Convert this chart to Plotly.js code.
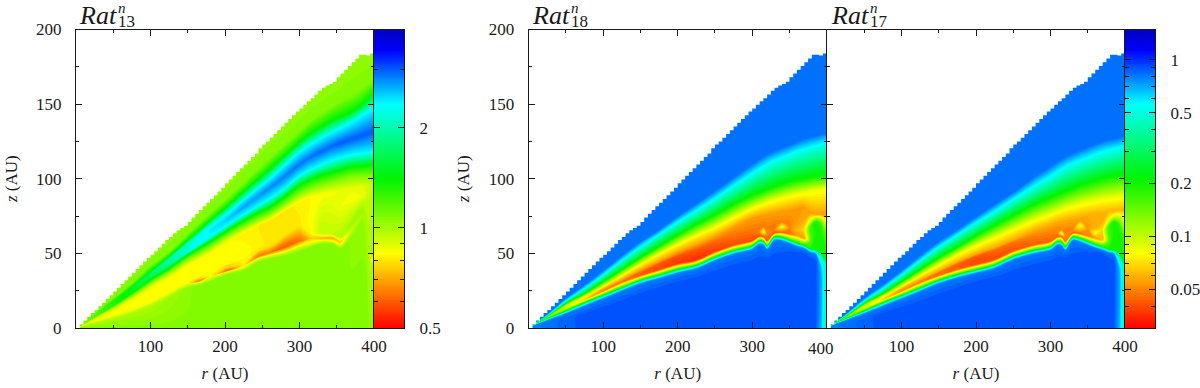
<!DOCTYPE html>
<html><head><meta charset="utf-8">
<script src="https://cdn.plot.ly/plotly-3.0.1.min.js"></script>
<style>html,body{margin:0;padding:0;background:#fff}#p{width:1200px;height:388px}</style>
</head><body><div id="p"></div>
<script>
// ---------- panel 1 : Rat13 ----------
const r1=[3,10,25,50,75,100,125,150,165,180,205,225,245,260,280,300,315,330,345,355,370,385,395,400];
const h1Base=[.2,1,3,6,9.5,14,20.5,27,28.5,31,36,38.5,44,46,48,51,54,56,56,53,60,70,44,40];
const h1Edge=[.3,1.3,3.6,7.2,11,16,22.5,29,30,33,37.5,40,46,48,50.5,54,56,58,57.5,55,63,73,45.5,42];
const h1Streak=[.35,1.5,4,7.8,12,16.8,23,30,31.5,34.5,38.7,41.5,48,50.5,54,58.5,60,60,60,57.5,66,76,47,45];
const h1Above=[.4,1.7,4.5,8.4,13,18,24,31,33,36,40.5,44,52,54,58,63,63,63.5,63,61,70,80,50,50];
const h1BandLow=[.45,1.9,4.8,9,14,19,25,33,35,39,44,50,55,57,62,68,70,75,79,82,86,89,88,90];
const h1BandTop=[.5,2.4,6,12.5,19.5,27,34,42,46,50,58,63.5,68.5,72,78,84,87.5,89.5,91,92,93.5,95,97,98];
const h1LimeL=[.55,2.7,7,14,21.5,30,37.5,46,50,54.5,62.5,68,73,76.5,83,90,93.5,96,98,99.5,101.5,102,102,102];
const h1GreenL=[.6,3,7.5,15,23.5,32.5,40,49,53.5,58,66,72,77.5,81,88,95.5,99.5,102.5,104.5,106,108,108.5,109.5,110];
const h1CyanL=[.65,3.1,8,15.8,24.5,34.5,43,51,56,61,69.5,76,82,86.5,93.5,102,106,109.5,112.5,114,116,117,117.5,118];
const h1Core=[.7,3.2,8.3,16.5,25.5,35.5,44.5,53.5,59,64.5,73.5,81,88.5,94,101.5,109.5,114.5,118.5,122,124,126.5,129,131,132];
const h1CyanU=[.75,3.3,8.6,17.2,26.5,36.5,46,56,62,68,77.5,86,94,100,109,118,123,127.5,131.5,134,138,143,146,148];
const h1GreenU=[.8,3.4,9,18,27.5,38,48,59,65.5,72,82.5,91.5,100,106.5,115.5,124.5,130.5,135,139.5,141.5,145,150,155,157];
const h1LimeU=[.9,3.7,10,20,30,42,51,63,70,77,88,97.5,107,114,123,132,139,144,149,152,156,161,165,166];
const h1Top=[1.3,4.6,11.7,24.5,37,49,61,72,79,87,100,111,122,129,137,147,154,160,165,169,178,183,184,186];
const v1Floor=[1.08,1.08,1.08,1.08,1.08,1.08,1.08,1.08,1.08,1.08,1.08,1.08,1.08,1.08,1.08,1.08,1.08,1.08,1.08,1.08,1.08,1.08,1.06,1.05];
const v1Base=[1.05,1.02,1,1,1,1,1.02,1.05,1.08,1.08,1.08,1.08,1.08,1.08,1.08,1.08,1.08,1.08,1.08,1.08,1.06,1.06,.98,1.02];
const v1Edge=[.95,.95,.93,.93,.93,.93,.93,.92,.92,.92,.92,.92,.92,.92,.92,.92,.92,.92,.92,.92,1,1.02,.9,.95];
const v1Streak=[.9,.9,.88,.88,.87,.85,.85,.84,.62,.84,.6,.82,.62,.63,.6,.62,.75,.72,.7,.75,.95,1,.72,.9];
const v1Above=[.88,.88,.86,.86,.85,.85,.85,.85,.78,.84,.75,.82,.8,.78,.68,.7,.82,.95,.95,.98,1.02,1.02,1,1.02];
const v1BandLow=[.88,.86,.85,.84,.84,.84,.84,.84,.84,.84,.84,.84,.82,.8,.8,.8,.84,.92,.9,.87,.85,.87,.95,1];
const v1BandTop=[.95,.92,.9,.88,.86,.85,.85,.84,.84,.84,.83,.82,.81,.8,.8,.82,.83,.85,.86,.87,.88,.9,.95,1];
const v1Core=[1.1,1.12,1.2,1.32,1.5,1.7,1.95,2.15,2.3,2.4,2.55,2.7,2.75,2.8,2.85,2.9,2.9,2.95,2.95,3,3,3,3,3];
// ---------- panel 2 : Rat18 ----------
const r2=[3,10,25,50,75,100,125,150,175,200,225,250,275,300,310,315,320,330,340,350,360,370,378,385,392,396,400];
const h2Blue=[.3,1.5,3,5.5,9,13,17.5,22,26,30,33,37,41,44,46,46,46,48,49,50,50,49,46,44,40,38,36];
const h2Light=[.5,2.2,5,9.5,14.5,19.6,24.6,29.6,33,36.7,39.6,45,49.4,52.5,56,55.5,52.5,58.5,58.2,56.5,54.5,53,50.5,49.5,44,41,39];
const h2Cyan=[.6,2.5,5.6,10.5,15.8,20.8,25.8,30.8,34.3,38,40.8,46.2,50.6,53.8,57.3,56.8,53.8,59.8,59.5,57.8,55.8,54.2,51.8,51,47,44,42];
const h2Green=[.7,2.8,6.3,11.4,17,22,27,32,35.5,39.3,42,47.5,51.8,55,58.5,58,55,61,60.7,59,57,55.4,53,53,52,48,47];
const h2Peak=[.75,3,6.8,12.8,18.5,24.5,30.5,35,39,43,45.5,51,55.5,58.5,61.5,61,58.5,63.5,64,63,62,60,58,62,60,57,54];
const h2Spot=[.8,3.1,6.9,13.3,19,25,31,36.5,41,45.5,48.5,54,58,61.5,64,65,62.5,65.5,68,67,66,66,67,71,69,64,60];
const h2Above=[.82,3.15,6.95,13.6,19.3,25.5,31.5,37.7,43.2,48,52.5,58,62.5,66,67,68,67,69,71,71,71,72,72.5,73,72.5,70,68];
const h2Orange=[.85,3.2,7,14,19.7,26,32,38.5,44.5,50.5,55.5,61,67.5,73.5,75,75.5,76,77,78,79,80,81,77,76,76,76,76];
const h2Yellow=[.9,3.4,7.3,15,21.5,28,35.5,43,50,56.5,62.5,68,74.5,80.5,82.5,83.5,84.5,86,87.5,89,90,91,92,92.5,93,93.5,94];
const h2GreenU=[1,3.6,7.8,16.5,23,31,39,47,54.5,62,69,75.5,82.5,88.5,90.5,91.5,92.5,94.3,96,97.5,98.8,99.8,100.5,101,101.5,101.8,102];
const h2CyanU=[1.1,3.9,8.5,18,26,35,44.5,53.5,62,70,77.5,85.5,94,102,105,106.5,108,110.5,112.5,114.5,116.5,118,119.3,120.3,121.2,122,122.5];
const h2BlueU=[1.2,4.1,9.3,20,29,38.5,48.5,58,66,75,83.5,92,101,110,113.5,115,116.5,119,121,123,125,127,128.2,129,130,130.5,131];
const h2Top=[1.4,4.8,11.5,24.5,37,49,61,73,86,99,111,124,136,147,152,154,156,160,163,167,172,178,182,183,183,185,186];
const v2Bottom=[.8,.8,.82,.86,.9,.9,.9,.9,.9,.9,.9,.9,.9,.9,.9,.9,.9,.9,.9,.9,.9,.9,.9,.9,.7,.5,.45];
const v2Light=[.8,.8,.8,.8,.8,.8,.8,.8,.8,.8,.8,.8,.8,.8,.8,.8,.8,.8,.8,.8,.8,.8,.8,.8,.55,.5,.45];
const v2Peak=[.2,.18,.15,.11,.07,.052,.047,.043,.04,.037,.036,.038,.04,.04,.04,.042,.042,.042,.043,.045,.055,.055,.15,.2,.2,.2,.18];
const v2Spot=[.19,.17,.14,.1,.065,.05,.047,.043,.04,.038,.038,.04,.042,.043,.05,.09,.05,.048,.085,.05,.06,.07,.17,.2,.18,.17,.16];
const v2Above=[.18,.165,.135,.1,.068,.052,.05,.046,.043,.041,.042,.045,.047,.048,.048,.047,.048,.048,.05,.05,.055,.058,.08,.12,.12,.12,.11];
const v2Orange=[.18,.16,.13,.1,.07,.055,.055,.055,.055,.055,.055,.055,.055,.055,.055,.055,.055,.055,.055,.055,.055,.055,.055,.055,.055,.055,.055];
// ---------- panel 3 : Rat17 ----------
const r3=[3,10,25,50,75,100,125,150,175,200,225,250,275,300,310,315,320,330,340,350,360,370,378,385,392,396,400];
const h3Blue=[.3,1.5,3,5.5,9,13,17,21.5,26,30,33,37,41,44,46,46,46,48,49,50,50,49,46,44,40,38,36];
const h3Light=[.5,2.2,5,9.5,14.5,19.4,24.4,29.6,33.4,36.6,39.9,45.6,49.4,52,55.5,55,52,58.5,57.5,55.5,53.5,52,50.3,49.5,44,41,38];
const h3Cyan=[.6,2.5,5.6,10.5,15.8,20.6,25.6,30.8,34.6,37.8,41.1,46.8,50.6,53.3,56.8,56.3,53.3,59.8,58.8,56.8,54.8,53.3,51.6,51,47,43.5,41];
const h3Green=[.7,2.8,6.3,11.4,17,21.8,26.8,32,35.8,39,42.3,48,51.8,54.5,58,57.5,54.5,61,60,58,56,54.5,52.8,52.5,51,47,46];
const h3Peak=[.75,3,6.8,12.8,18.5,24.3,30.3,35,39.3,42.5,45.8,51.5,55.3,58,61,61,58,63.5,63,61.5,60,59,58,62,60,57,54];
const h3Spot=[.8,3.1,6.9,13.3,19,25,31,36.5,41,45,48.5,54,58,61,63.5,63.5,61,65,69,66,63.5,66,67,71,69,64,60];
const h3Above=[.82,3.15,6.95,13.6,19.3,25.5,31.5,37.5,43,48,52,57.5,61.5,64.5,66,66,66,67,72,69,67,71,72.5,73,72.5,70,68];
const h3Orange=[.85,3.2,7,14,19.7,26,32,38,44,49.5,54,59,64.5,69,71,71.5,72,73,74,75,76,77,78,78,79,79,80];
const h3Yellow=[.9,3.4,7.3,15,21.5,28,35.5,42.5,49.5,55.5,61,66.5,72,76.5,78.5,79.5,80.5,82,83.5,84.5,85.5,86.5,87,87.5,88,88.5,89];
const h3GreenU=[1,3.6,7.8,16.5,23,31,39,47,54,61.5,68.5,75,81.5,87,89,90,91,93,95,96.5,98,99.5,100.3,101,101.6,102,102.5];
const h3CyanU=[1.1,3.9,8.5,18,26,35,44.5,53.5,61.5,69.5,77,85,92.5,100,103,104.5,106,108.5,110.5,112.5,114.5,116,117.2,118.2,119,119.5,120];
const h3BlueU=[1.2,4.1,9.3,20,29,38.5,48.5,58,66,74.5,83,91,100.5,108.5,112,113.5,115,117.5,119.5,121.5,123.5,125.5,126.5,127,128,128.5,129];
const h3Top=[1.4,4.8,11.5,24.5,37,49,61,73,86,99,111,124,136,147,151,153,155,160,164,167,172,178,181,183,183,184,186];
const v3Bottom=[.8,.8,.82,.86,.9,.9,.9,.9,.9,.9,.9,.9,.9,.9,.9,.9,.9,.9,.9,.9,.9,.9,.9,.9,.7,.5,.45];
const v3Light=[.8,.8,.8,.8,.8,.8,.8,.8,.8,.8,.8,.8,.8,.8,.8,.8,.8,.8,.8,.8,.8,.8,.8,.8,.55,.5,.45];
const v3Peak=[.2,.18,.15,.11,.072,.055,.05,.046,.043,.04,.04,.041,.043,.043,.045,.045,.047,.043,.045,.05,.055,.06,.15,.2,.2,.2,.18];
const v3Spot=[.19,.17,.14,.1,.068,.052,.05,.046,.043,.04,.041,.043,.045,.047,.05,.09,.05,.05,.085,.052,.08,.07,.17,.2,.18,.17,.16];
const v3Above=[.18,.165,.135,.1,.07,.054,.052,.048,.045,.043,.045,.047,.05,.05,.05,.05,.05,.05,.055,.055,.06,.06,.08,.12,.12,.12,.11];
const v3Orange=[.18,.16,.13,.1,.072,.056,.057,.058,.058,.058,.058,.058,.058,.058,.058,.058,.058,.058,.058,.058,.058,.06,.06,.06,.06,.06,.06];
// ---------- stepped upper edge of the computed domain ----------
const edgeR=[0,5,10,15,20,25,30,35,40,45,50,55,60,65,70,75,80,85,90,95,100,105,110,115,120,125,130,135,140,145,150,155,160,165,170,175,180,185,190,195,200,205,210,215,220,225,230,235,240,245,250,255,260,265,270,275,280,285,290,295,300,305,310,315,320,325,330,335,340,345,350,355,360,365,370,375,380,385,390,395,400];
const edgeZ=[0,2.5,5,7.5,10,12,14.5,17,19.5,22,24.5,27,29.5,32,34.5,37,39.5,42,44.5,47,49,51.5,54,56.5,59,61,63.5,65.5,67,68.5,71,74,76.5,79,81.5,84,86.5,89,91.5,94,97,99.5,102,104.5,107,109.5,112,114.5,117,120.5,123,125,127.5,130,132.5,135,137.5,140,142.5,145,147,149.5,152,154,156.5,159,161,162.5,163.5,165,168,170.5,173,175.5,178,180.5,183,183,182.5,184,186];
// ---------- scales and ticks ----------
const range1=[0.5,3.95], range3=[0.0302,1.48];
const cbTicks1=[0.5,1,2], cbMinor1=[0.6,0.7,0.8,0.9,3];
const cbTicks3=[0.05,0.1,0.2,0.5,1], cbMinor3=[0.04,0.06,0.07,0.08,0.09,0.3,0.4,0.6,0.7,0.8,0.9];
const rTicks=[100,200,300,400], rMinor=[50,150,250,350];
const zTicks=[0,50,100,150,200], zMinor=[25,75,125,175];
const scale=[[0,'#ff0000'],[0.25,'#ffff00'],[0.5,'#00f500'],[0.75,'#00ffff'],[0.93,'#0000ff'],[1,'#0000c0']];
const FONT='Liberation Serif', INK='#1a1a1a';

const lg=v=>Math.log10(v);
function wedge(id,xa,ya,R,heights,values,range){
  const x=heights.map(()=>R.slice());
  const b=heights.map((_,i)=>i);
  const zlo=lg(range[0]), zhi=lg(range[1]);
  const off={smoothing:0,showgrid:false,showline:false,startline:false,endline:false,showticklabels:'none',minorgridcount:0,tickmode:'array',tickvals:[]};
  return [
   {type:'carpet',carpet:id,a:R,b:b,x:x,y:heights,xaxis:xa,yaxis:ya,aaxis:off,baxis:off,hoverinfo:'skip'},
   {type:'contourcarpet',carpet:id,a:R,b:b,z:values.map(v=>v.map(lg)),xaxis:xa,yaxis:ya,autocontour:false,
    contours:{start:zlo,end:zhi,size:(zhi-zlo)/90,coloring:'fill',showlines:false},line:{width:0},
    colorscale:scale,zmin:zlo,zmax:zhi,showscale:false,hoverinfo:'skip'},
   {type:'scatter',mode:'lines',x:[...edgeR,400,0],y:[...edgeZ,201,201],xaxis:xa,yaxis:ya,line:{shape:'hv',width:0,color:'#fff'},fill:'toself',fillcolor:'#fff',hoverinfo:'skip'}
  ];
}
const fill=(R,v)=>R.map(()=>v);
const zeros=R=>R.map(()=>0);
const above=a=>a.map(v=>v+3);
const minWith=(a,c)=>a.map(v=>Math.min(v,c));
function ramp(range){const y=[];for(let i=0;i<=320;i++)y.push(range[0]*Math.pow(range[1]/range[0],i/320));return y;}
function cbar(xa,ya,range){const y=ramp(range),zlo=lg(range[0]),zhi=lg(range[1]);
  return {type:'heatmap',x:[0,1],y:y,z:y.map(v=>[lg(v),lg(v)]),xaxis:xa,yaxis:ya,colorscale:scale,zmin:zlo,zmax:zhi,showscale:false,hoverinfo:'skip'};}

const t1=wedge('c1','x','y',r1,
 [zeros(r1),h1Base,h1Edge,h1Streak,h1Above,h1BandLow,h1BandTop,h1LimeL,h1GreenL,h1CyanL,h1Core,h1CyanU,h1GreenU,h1LimeU,above(h1Top)],
 [v1Floor,v1Base,v1Edge,v1Streak,v1Above,v1BandLow,v1BandTop,fill(r1,1.08),minWith(v1Core,1.41),minWith(v1Core,2.35),v1Core,minWith(v1Core,2.35),minWith(v1Core,1.41),fill(r1,1.08),fill(r1,1.05)],range1);
function rat(R,hs,vB,vL,vP,vS,vA,vO){
 return [[zeros(R),...hs],[vB,vB,vL,fill(R,.5),fill(R,.2),vP,vS,vA,vO,vO.map(v=>Math.max(v,.085)),fill(R,.2),fill(R,.5),fill(R,.84),fill(R,.84)]];}
const [g2,w2]=rat(r2,[h2Blue,h2Light,h2Cyan,h2Green,h2Peak,h2Spot,h2Above,h2Orange,h2Yellow,h2GreenU,h2CyanU,h2BlueU,above(h2Top)],v2Bottom,v2Light,v2Peak,v2Spot,v2Above,v2Orange);
const [g3,w3]=rat(r3,[h3Blue,h3Light,h3Cyan,h3Green,h3Peak,h3Spot,h3Above,h3Orange,h3Yellow,h3GreenU,h3CyanU,h3BlueU,above(h3Top)],v3Bottom,v3Light,v3Peak,v3Spot,v3Above,v3Orange);
const t2=wedge('c2','x3','y3',r2,g2,w2,range3);
const t3=wedge('c3','x4','y4',r3,g3,w3,range3);

const W=1200,H=388,plotTop=29.5,plotBot=328;
const ydom=[(H-plotBot)/H,(H-plotTop)/H];
const SZ=17;
const frame={showline:true,linecolor:INK,linewidth:1,mirror:'ticks',ticks:'inside',tickcolor:INK,tickwidth:1,zeroline:false,showgrid:false,
  tickfont:{family:FONT,size:SZ,color:INK}};
function xax(l,r,anchor,labels){return Object.assign({},frame,{domain:[l/W,r/W],anchor:anchor,range:[0,400],tickmode:'array',tickvals:rTicks,ticktext:labels,ticklen:6,ticklabelstandoff:3,
  minor:{tickmode:'array',tickvals:rMinor,ticks:'inside',ticklen:3,tickcolor:INK,tickwidth:1,showgrid:false},
  title:{text:'<i>r</i> (AU)',font:{family:FONT,size:SZ,color:INK},standoff:11}});}
function yax(anchor,labels){return Object.assign({},frame,{domain:ydom,anchor:anchor,range:[0,200],tickmode:'array',tickvals:zTicks,ticktext:zTicks.map(String),ticklen:6,showticklabels:labels,ticklabelstandoff:10,
  minor:{tickmode:'array',tickvals:zMinor,ticks:'inside',ticklen:3,tickcolor:INK,tickwidth:1,showgrid:false},
  title:labels?{text:'<i>z</i> (AU)',font:{family:FONT,size:SZ,color:INK},standoff:14}:{text:''}});}
function cbx(l,r,anchor){return {domain:[l/W,r/W],anchor:anchor,range:[0,1],showticklabels:false,ticks:'',showline:true,linecolor:INK,linewidth:1,mirror:true,showgrid:false,zeroline:false};}
function cby(anchor,range,maj,min){return Object.assign({},frame,{domain:ydom,anchor:anchor,type:'log',side:'right',range:[lg(range[0]),lg(range[1])],tickmode:'array',tickvals:maj,ticktext:maj.map(String),ticklen:6,mirror:'ticks',ticklabelstandoff:11,
  minor:{tickmode:'array',tickvals:min,ticks:'inside',ticklen:4,tickcolor:INK,tickwidth:1,showgrid:false}});}

function titleNotes(x,sub){const f=(sz)=>({family:FONT,size:sz,color:INK});
 return [
  {xref:'paper',yref:'paper',x:x/W,y:1-15.5/H,xanchor:'left',yanchor:'middle',showarrow:false,text:'<i>Rat</i>',font:f(26)},
  {xref:'paper',yref:'paper',x:(x+39)/W,y:1-8/H,xanchor:'left',yanchor:'middle',showarrow:false,text:'<i>n</i>',font:f(15)},
  {xref:'paper',yref:'paper',x:(x+39)/W,y:1-21/H,xanchor:'left',yanchor:'middle',showarrow:false,text:sub,font:f(17)}];}
const rLabels=rTicks.map(String);
const layout={width:W,height:H,margin:{l:0,r:0,t:0,b:0},paper_bgcolor:'#fff',plot_bgcolor:'#fff',showlegend:false,
 xaxis:xax(76,374,'y',rLabels),yaxis:yax('x',true),
 xaxis2:cbx(374,404,'y2'),yaxis2:cby('x2',range1,cbTicks1,cbMinor1),
 xaxis3:xax(528.7,826.7,'y3',['100','200','300','']),yaxis3:yax('x3',true),
 xaxis4:xax(827,1125,'y4',rLabels),yaxis4:yax('x4',false),
 xaxis5:cbx(1125,1155,'y5'),yaxis5:cby('x5',range3,cbTicks3,cbMinor3),
 annotations:[...titleNotes(77,'13'),...titleNotes(530,'18'),...titleNotes(829,'17'),
  {xref:'paper',yref:'paper',x:820.8/W,y:1-348/H,xanchor:'center',yanchor:'middle',showarrow:false,text:'400',font:{family:FONT,size:SZ,color:INK}}]};
Plotly.newPlot('p',[...t1,cbar('x2','y2',range1),...t2,...t3,cbar('x5','y5',range3)],layout,{staticPlot:true,displayModeBar:false});
</script></body></html>
